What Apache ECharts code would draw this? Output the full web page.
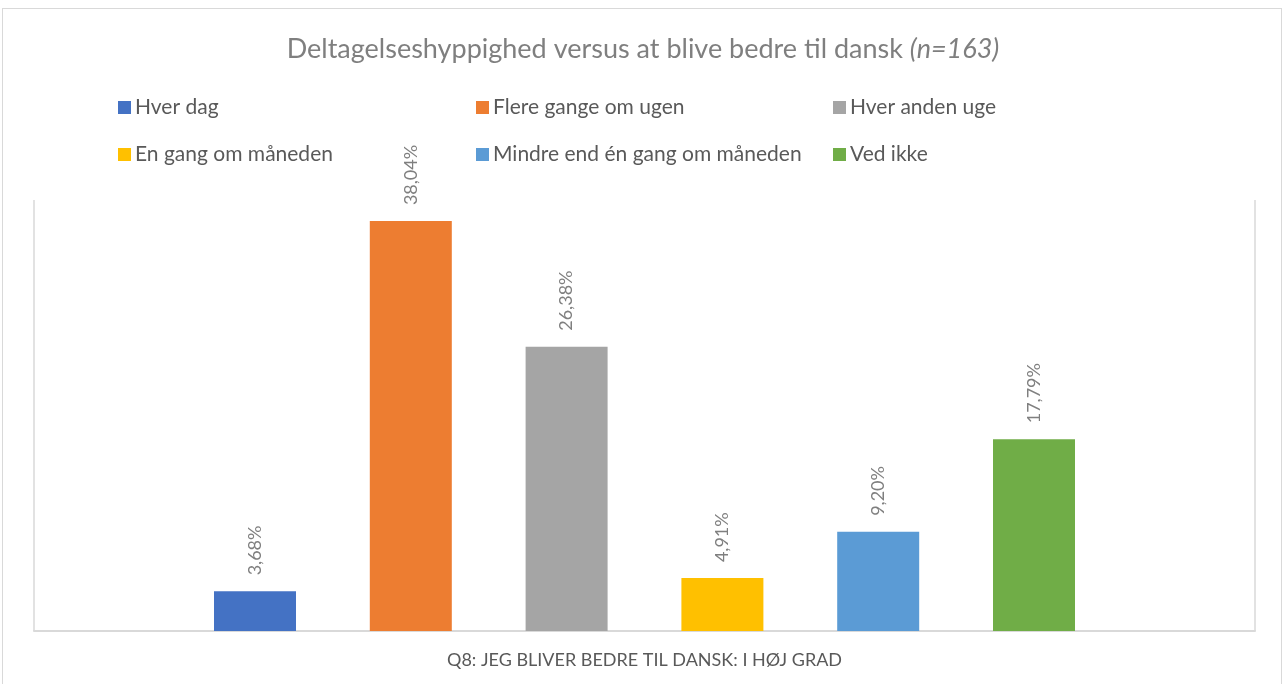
<!DOCTYPE html>
<html>
<head>
<meta charset="utf-8">
<script src="https://cdn.jsdelivr.net/npm/echarts@6/dist/echarts.min.js"></script>
<style>
  html, body { margin: 0; padding: 0; background: #fff; }
  #frame {
    position: absolute; left: 2px; top: 8px; width: 1280px; height: 690px;
    border: 1px solid #d9d9d9; box-sizing: border-box;
  }
  #chart { position: absolute; left: 0; top: 0; width: 1286px; height: 684px; }
</style>
</head>
<body>
<div id="frame"></div>
<div id="chart"></div>
<script>
// kategorien (én gruppe) og serierne
const categories = ["Q8: JEG BLIVER BEDRE TIL DANSK: I HØJ GRAD"];
const seriesNames = [
  "Hver dag",
  "Flere gange om ugen",
  "Hver anden uge",
  "En gang om måneden",
  "Mindre end én gang om måneden",
  "Ved ikke",
];
const seriesValues = [3.68, 38.04, 26.38, 4.91, 9.2, 17.79];
const seriesColors = ["#4472c4", "#ed7d31", "#a5a5a5", "#ffc000", "#5b9bd5", "#70ad47"];

const font = "Lato, 'Open Sans', sans-serif";
const chart = echarts.init(document.getElementById("chart"), null, { renderer: "canvas" });

const seriesArr = seriesNames.map((name, i) => {
  return {
    name: name,
    type: "bar",
    data: [seriesValues[i]],
    barWidth: 82,
    barGap: "90%",
    itemStyle: { color: seriesColors[i] },
    label: {
      show: true,
      position: "top",
      rotate: 90,
      align: "left",
      verticalAlign: "middle",
      distance: 16,
      color: "#7f7f7f",
      fontFamily: font,
      fontSize: 18,
      formatter: (p) => p.value.toFixed(2).replace(".", ",") + "%",
    },
  };
});

// legenden: tre kolonner, to rækker
const legendCols = [118, 476, 833];
const legendRowsTop = [97, 144];

const option = {
  animation: false,
  title: {
    text: "Deltagelseshyppighed versus at blive bedre til dansk {i|(n=163)}",
    left: "center",
    top: 31,
    textStyle: {
      color: "#7f7f7f",
      fontFamily: font,
      fontSize: 27,
      fontWeight: "normal",
      rich: {
        i: { color: "#7f7f7f", fontFamily: font, fontSize: 27, fontStyle: "italic" },
      },
    },
  },
  legend: seriesNames.map((name, i) => ({
    data: [name],
    left: legendCols[i % 3],
    top: legendRowsTop[Math.floor(i / 3)],
    padding: 0,
    itemWidth: 13,
    itemHeight: 13,
    itemGap: 0,
    icon: "rect",
    textStyle: {
      color: "#595959",
      fontFamily: font,
      fontSize: 21,
      padding: [0, 0, 0, -1],
    },
  })),
  grid: { left: 34, right: 31, top: 200, bottom: 53 },
  xAxis: {
    type: "category",
    data: categories,
    axisTick: { show: false },
    axisLabel: {
      show: true,
      color: "#595959",
      fontFamily: font,
      fontSize: 18,
      margin: 20,
    },
    axisLine: { lineStyle: { color: "#d9d9d9", width: 2 } },
    splitLine: { show: true, lineStyle: { color: "#d9d9d9", width: 1.5 } },
  },
  yAxis: {
    type: "value",
    min: 0,
    max: 40,
    show: false,
    splitLine: { show: false },
  },
  series: seriesArr,
};
chart.setOption(option);
</script>
</body>
</html>
